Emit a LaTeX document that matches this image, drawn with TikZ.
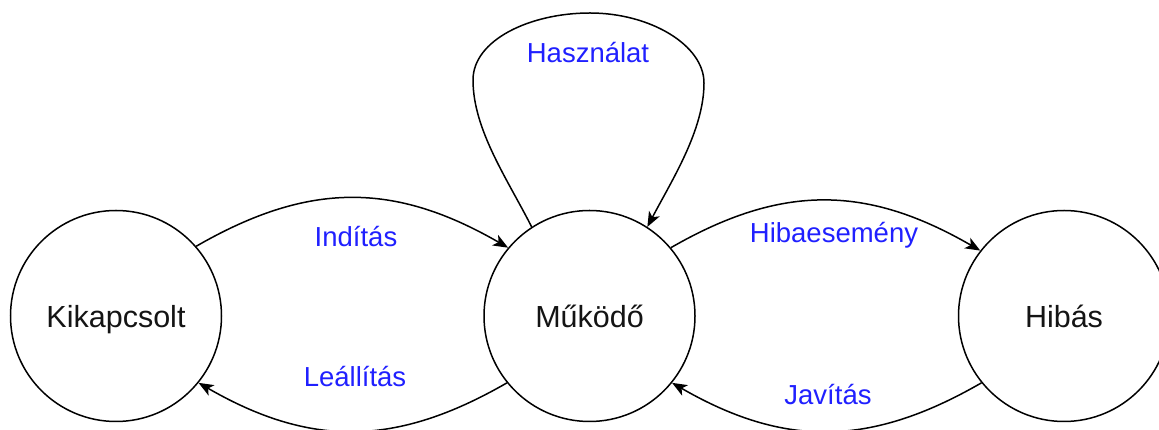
\documentclass[tikz,border=0pt]{standalone}
\usepackage{fontspec}
\setmainfont{Liberation Sans}
\usetikzlibrary{arrows.meta}
\definecolor{lblue}{RGB}{32,32,255}
\definecolor{ink}{RGB}{20,20,20}
\tikzset{
  state/.style={circle, draw=black, line width=1.5pt, minimum size=211pt,
    inner sep=0pt, text height=24pt, text depth=0pt, text=ink,
    font=\fontsize{30.5}{36}\selectfont},
  trans/.style={draw=black, line width=1.5pt,
    -{Stealth[length=15pt,width=12pt,inset=4pt]}},
  evlabel/.style={anchor=base, text=lblue, inner sep=0pt,
    font=\fontsize{27.5}{33}\selectfont}
}
\begin{document}
\begin{tikzpicture}[x=1pt,y=1pt]
  \useasboundingbox (0,0) rectangle (1159,430);
  \clip (0,0) rectangle (1159,430);

  % states
  \node[state] (off) at (116,114) {Kikapcsolt};
  \node[state] (run) at (589.5,114) {Működő};
  \node[state] (err) at (1064,114) {Hibás};

  % transitions between states
  \draw[trans] (off.41) to[out=30, in=150, looseness=1.07] (run.140);
  \draw[trans] (run.40) to[out=30, in=150, looseness=1.07] (err.142);
  \draw[trans] (run.219) to[out=210, in=330, looseness=1.07] (off.321);
  \draw[trans] (err.219) to[out=210, in=330, looseness=1.07] (run.321);

  % self loop on the running state
  \coordinate (loopL) at (473,350);
  \coordinate (loopT) at (590,417);
  \coordinate (loopR) at (704,347);
  \draw[trans] (run.123) .. controls (508,250) and (473,300) .. (loopL)
    .. controls (473,390) and (530,417) .. (loopT)
    .. controls (650,417) and (704,385) .. (loopR)
    .. controls (704,300) and (672,250) .. (run.57);

  % event labels
  \node[evlabel] (lstart) at (356,183) {Indítás};
  \node[evlabel] (lfail)  at (834,187) {Hibaesemény};
  \node[evlabel] (lstop)  at (355,43)  {Leállítás};
  \node[evlabel] (lfix)   at (828,25)  {Javítás};
  \node[evlabel] (luse)   at (588,367) {Használat};
\end{tikzpicture}
\end{document}
